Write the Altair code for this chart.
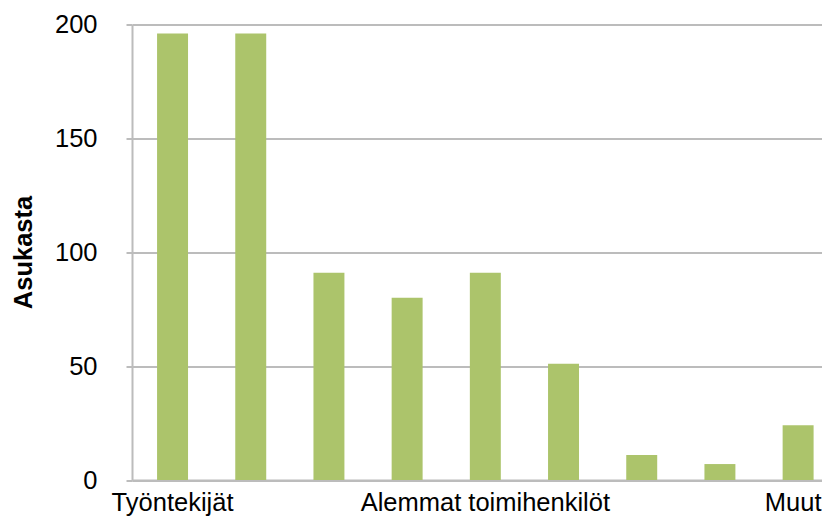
import altair as alt
import pandas as pd

positions = [1, 2, 3, 4, 5, 6, 7, 8, 9]
values = [196, 196, 91, 80, 91, 51, 11, 7, 24]
tick_labels = ["Työntekijät", "", "", "", "Alemmat toimihenkilöt", "", "", "", "Muut"]
y_ticks = [0, 50, 100, 150, 200]

df = pd.DataFrame({"pos": positions, "value": values})

label_js = "[" + ",".join("'" + t + "'" for t in tick_labels) + "]"

FONT = "Liberation Sans"
GRID = "#bcbcbc"

chart = (
    alt.Chart(df)
    .mark_bar(color="#acc46b")
    .encode(
        x=alt.X(
            "pos:O",
            scale=alt.Scale(paddingInner=0.604, paddingOuter=0.214, align=0.749),
            axis=alt.Axis(
                title=None,
                labelAngle=0,
                ticks=False,
                labelPadding=10,
                labelFont=FONT,
                labelFontSize=25.5,
                labelColor="#000000",
                labelExpr=label_js + "[datum.value - 1]",
                labelOffset={"condition": {"test": "datum.value == 9", "value": -5}, "value": 0},
                labelOverlap=False,
                labelLimit=1000,
                domainColor=GRID,
                domainWidth=2,
                grid=False,
            ),
        ),
        y=alt.Y(
            "value:Q",
            scale=alt.Scale(domain=[0, 200], nice=False),
            axis=alt.Axis(
                title="Asukasta",
                values=y_ticks,
                titleFont=FONT,
                titleFontSize=25.5,
                titleFontWeight="bold",
                titleColor="#000000",
                titleX=-109,
                titleY=227.5,
                titleAngle=270,
                titleAlign="center",
                titleBaseline="middle",
                labelFont=FONT,
                labelFontSize=25.5,
                labelColor="#000000",
                labelPadding=29,
                tickSize=6,
                tickColor=GRID,
                tickWidth=2,
                domainColor=GRID,
                domainWidth=2,
                gridColor=GRID,
                gridWidth=2,
            ),
        ),
    )
    .properties(
        width=690,
        height=455.5,
        autosize=alt.AutoSizeParams(type="none"),
        padding={"left": 124, "top": 16.5, "right": 0, "bottom": 37},
    )
    .configure_view(strokeWidth=0)
)

chart.save("out.html", embed_options={"renderer": "svg", "actions": False})
